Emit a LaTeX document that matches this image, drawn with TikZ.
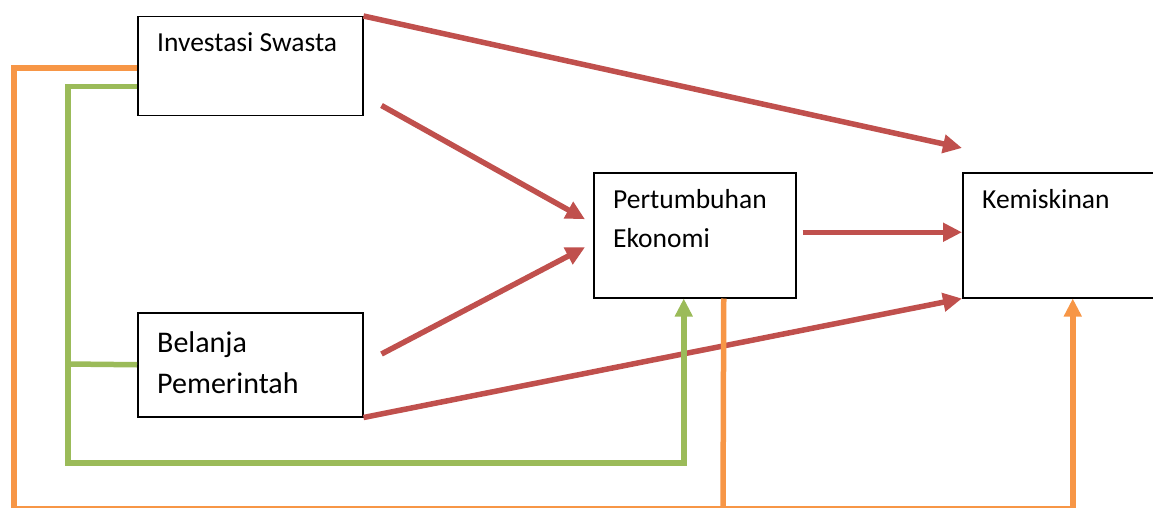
\documentclass[tikz,border=0pt]{standalone}
\usepackage{fontspec}
\setmainfont{Carlito}
\usetikzlibrary{positioning, calc, arrows.meta}
\definecolor{arrred}{HTML}{C0504D}
\definecolor{arrgreen}{HTML}{9BBB59}
\definecolor{arrorange}{HTML}{F79646}

\begin{document}
\begin{tikzpicture}[x=1pt, y=-1pt,
	box/.style={rectangle, draw, line width=1.5pt, anchor=north west, inner sep=0pt},
	txt/.style={anchor=base west, align=left, inner sep=0pt, font=\fontsize{27.5}{39}\selectfont},
	bigtxt/.style={txt, font=\fontsize{30}{41}\selectfont},
	redline/.style={draw=arrred, line width=5.5pt, -{Triangle[length=19pt, width=18pt]}},
	greenline/.style={draw=arrgreen, line width=5.5pt, -{Triangle[length=18pt, width=17pt]}},
	orangeline/.style={draw=arrorange, line width=5.5pt, -{Triangle[length=18pt, width=17pt]}}]
	\useasboundingbox (0,0) rectangle (1153,508);

	% boxes
	\node[box, minimum width=225pt, minimum height=99pt] (inv) at (137,16) {};
	\node[box, minimum width=225pt, minimum height=104pt] (bel) at (137,312) {};
	\node[box, minimum width=202pt, minimum height=125pt] (pert) at (593,172) {};
	\node[box, minimum width=220pt, minimum height=125pt] (kem) at (962,172) {};

	\node[txt] (invtext) at ($(inv.north west)+(20,36)$) {Investasi Swasta};
	\node[bigtxt] (beltext) at ($(bel.north west)+(20,81)$) {Belanja\\Pemerintah};
	\node[txt] (perttext) at ($(pert.north west)+(20,75)$) {Pertumbuhan\\Ekonomi};
	\node[txt] (kemtext) at ($(kem.north west)+(20,36)$) {Kemiskinan};

	% red arrows
	\coordinate (invkem) at ($(kem.north west)+(0,-24)$);
	\coordinate (invout) at ($(inv.south east)+(18,-11)$);
	\coordinate (pertin1) at ($(pert.west)+(-8,-16)$);
	\coordinate (belout) at ($(bel.north east)+(18,42)$);
	\coordinate (pertin2) at ($(pert.west)+(-8,12)$);
	\draw[redline] (inv.north east) -- (invkem);
	\draw[redline] (invout) -- (pertin1);
	\draw[redline] (belout) -- (pertin2);
	\draw[redline] (bel.south east) -- (kem.south west);
	\draw[redline, shorten <=6pt] ($(pert.east)+(0,-3)$) -- ($(kem.west)+(0,-3)$);

	% green lines
	\coordinate (gtop) at ($(inv.south west)+(0,-30)$);
	\draw[greenline] (gtop) -| (68,463) -| ($(pert.south)+(-11,0)$);
	\draw[greenline, -] (bel.west) -- (68,364);

	% orange lines
	\coordinate (otop) at ($(inv.north west)+(0,52)$);
	\draw[orangeline] (otop) -| (14,509) -| ($(kem.south)+(0,0)$);
	\draw[orangeline, -] ($(pert.south)+(29,0)$) -- (723,509);
\end{tikzpicture}
\end{document}
